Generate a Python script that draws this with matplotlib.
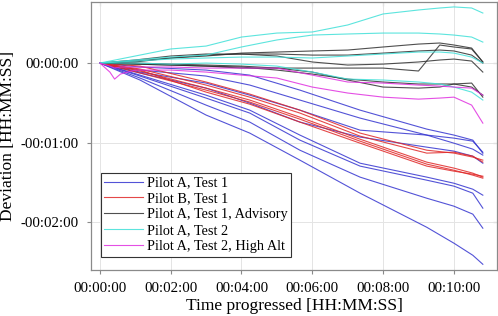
import matplotlib
matplotlib.use("Agg")
import matplotlib.pyplot as plt
from matplotlib.ticker import FuncFormatter

plt.rcParams['font.family'] = ['Liberation Serif', 'DejaVu Serif']

# time grid (s) for Pilot A Test 1 / Pilot B Test 1
t_ab = [0, 68, 180, 254, 339, 441, 554, 600, 632, 649]
# Pilot A, Test 1 (deviation in seconds)
pilot_a_test1 = [
    [0, -3.0, -5.3, -9.1, -20.4, -35.5, -49.8, -54.3, -58.1, -68.0],
    [0, -5.3, -9.8, -16.6, -27.9, -41.5, -54.3, -60.4, -64.9, -69.4],
    [0, -6.8, -15.1, -24.2, -35.5, -50.6, -54.3, -56.6, -58.9, -67.2],
    [0, -7.5, -18.9, -30.2, -44.5, -55.8, -63.4, -66.4, -70.2, -75.5],
    [0, -9.1, -24.2, -35.5, -54.3, -75.5, -86.0, -90.6, -95.1, -99.6],
    [0, -9.8, -26.4, -37.7, -58.1, -77.7, -88.3, -92.8, -98.1, -109.4],
    [0, -11.3, -31.7, -44.5, -65.7, -86.0, -101.9, -107.9, -113.9, -124.5],
    [0, -12.8, -39.2, -52.8, -73.2, -98.1, -123.8, -135.8, -144.9, -151.7],
]
# Pilot B, Test 1
pilot_b_test1 = [
    [0, -2.3, -14.3, -23.4, -35.5, -52.8, -65.7, -67.9, -70.9, -73.2],
    [0, -4.5, -16.6, -25.7, -37.7, -55.1, -67.9, -67.2, -70.2, -74.7],
    [0, -6.0, -18.9, -27.9, -40.8, -57.4, -74.7, -79.2, -83.0, -86.0],
    [0, -7.5, -20.4, -29.4, -42.3, -58.9, -76.2, -80.8, -84.5, -86.8],
    [0, -5.3, -21.9, -31.0, -44.5, -60.4, -77.7, -81.5, -83.8, -85.3],
]

# time grid for advisory / test 2 runs
t_2 = [0, 60, 120, 180, 240, 300, 360, 420, 480, 540, 576, 600, 630, 649]
pilot_a_test1_advisory = [
    [0, 0.8, 3.8, 5.3, 7.5, 8.3, 9.1, 9.8, 12.1, 14.3, 15.1, 13.6, 11.3, 0.8],
    [0, -0.8, -1.5, -2.3, -3.8, -3.8, -3.8, -3.8, -3.8, -6.0, 13.6, 12.1, 10.6, 0.8],
    [0, 2.3, 5.3, 6.8, 6.8, 5.3, 0.8, -1.5, -0.8, 0.8, 2.3, 3.0, 1.5, -6.8],
    [0, -0.8, -1.5, -2.3, -3.0, -5.3, -8.3, -12.1, -14.3, -15.8, -15.8, -15.8, -18.1, -24.2],
    [0, 0, -0.8, -1.5, -2.3, -3.8, -6.8, -12.8, -18.1, -18.9, -18.1, -15.8, -15.1, -25.7],
    [0, 1.5, 3.8, 6.0, 6.8, 6.8, 6.0, 6.0, 7.5, 9.1, 9.8, 9.1, 6.0, 0],
]
pilot_a_test2 = [
    [0, 5.3, 10.6, 12.8, 19.6, 22.6, 23.4, 28.7, 37.0, 40.0, 41.5, 42.3, 41.5, 37.7],
    [0, 2.3, 4.5, 6.0, 12.1, 17.4, 21.1, 21.9, 22.6, 22.6, 21.9, 21.1, 19.6, 15.8],
    [0, 1.5, 3.0, 3.8, 4.5, 4.5, 3.8, 5.3, 6.8, 8.3, 8.3, 7.5, 4.5, 0],
    [0, 0, -0.8, 0, -0.8, -2.3, -6.8, -12.1, -12.8, -14.3, -15.8, -18.1, -21.9, -27.9],
]
t_hi = [0, 17, 25, 35, 60, 120, 180, 240, 300, 360, 420, 480, 540, 576, 600, 630, 649]
pilot_a_test2_high = [
    [0, -2.3, -3.8, -3.0, -3.0, -3.0, -3.8, -3.8, -3.8, -9.1, -14.3, -15.1, -16.6, -17.4, -18.1, -18.9, -24.2],
    [0, -6.8, -12.1, -8.3, -5.3, -5.3, -6.8, -9.1, -11.3, -18.1, -22.6, -25.7, -27.2, -26.4, -25.7, -31.7, -45.3],
]

labels = ["Pilot A, Test 1", "Pilot B, Test 1", "Pilot A, Test 1, Advisory",
          "Pilot A, Test 2", "Pilot A, Test 2, High Alt"]
colors = ["#3535d0", "#e02828", "#303030", "#40e0d8", "#e030e0"]

x_ticks = [0, 120, 240, 360, 480, 600]
y_ticks = [-120, -60, 0]


def hms(v, pos=None):
    s = int(round(abs(v)))
    sign = "-" if v < -0.5 else ""
    return f"{sign}{s // 3600:02d}:{(s % 3600) // 60:02d}:{s % 60:02d}"


fig = plt.figure(figsize=(4.98, 3.16), dpi=100)
ax = fig.add_axes([0.1827, 0.1456, 0.8153, 0.848])

groups = [(t_ab, pilot_a_test1), (t_ab, pilot_b_test1), (t_2, pilot_a_test1_advisory),
          (t_2, pilot_a_test2), (t_hi, pilot_a_test2_high)]
handles = []
for (tt, series), c, lab in zip(groups, colors, labels):
    for i, ys in enumerate(series):
        ln, = ax.plot(tt, ys, color=c, lw=0.8, alpha=0.85, label=lab if i == 0 else None)
        if i == 0:
            handles.append(ln)

ax.set_xlim(-15, 673)
ax.set_ylim(-156, 46)
ax.set_xticks(x_ticks)
ax.set_yticks(y_ticks)
ax.xaxis.set_major_formatter(FuncFormatter(hms))
ax.yaxis.set_major_formatter(FuncFormatter(hms))
ax.grid(True, color="#e4e4e4", lw=0.7)
ax.set_axisbelow(True)
for sp in ax.spines.values():
    sp.set_color("#8a8a8a")
    sp.set_linewidth(0.9)
ax.tick_params(direction="out", length=3, color="#8a8a8a", labelsize=10.7, pad=6)

secx = ax.secondary_xaxis('top')
secx.set_xticks(x_ticks)
secx.tick_params(direction="in", length=3, color="#8a8a8a", labeltop=False)
secx.spines['top'].set_visible(False)
secy = ax.secondary_yaxis('right')
secy.set_yticks(y_ticks)
secy.tick_params(direction="in", length=3, color="#8a8a8a", labelright=False)
secy.spines['right'].set_visible(False)

ax.set_xlabel("Time progressed [HH:MM:SS]", fontsize=12.5, labelpad=2)
ax.set_ylabel("Deviation [HH:MM:SS]", fontsize=12.5, labelpad=3)

leg = ax.legend(handles=handles, loc="lower left", bbox_to_anchor=(0.024, 0.05),
                fontsize=10.3, frameon=True, fancybox=False, edgecolor="#333333",
                framealpha=1, borderpad=0.25, labelspacing=0.2, handlelength=2.7,
                handletextpad=0.25, borderaxespad=0)
leg.get_frame().set_linewidth(0.8)

fig.savefig("out.png", dpi=100)
